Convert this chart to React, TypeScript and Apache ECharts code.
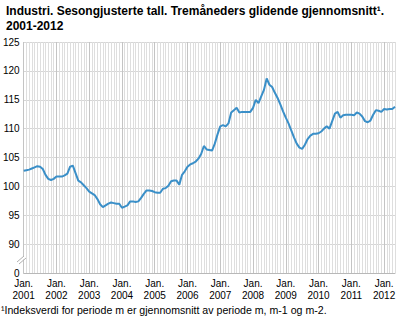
import React, { useEffect, useRef } from "react";
import * as echarts from "echarts";

const titleText = "Industri. Sesongjusterte tall. Tremåneders glidende gjennomsnitt¹.\n2001-2012";
const footnote = "¹Indeksverdi for periode m er gjennomsnitt av periode m, m-1 og m-2.";

const startYear = 2001;
const monthCount = 137; // Jan 2001 – May 2012

const yTicks = [85, 90, 95, 100, 105, 110, 115, 120, 125];

const values = [
  102.7, 102.8, 102.9, 103.1, 103.3, 103.5, 103.4, 103.0, 102.0, 101.3, 101.1, 101.3,
  101.7, 101.7, 101.7, 101.9, 102.2, 103.4, 103.6, 102.3, 101.0, 100.7, 100.2, 99.7,
  99.1, 98.8, 98.5, 97.8, 96.9, 96.4, 96.7, 97.0, 97.2, 97.1, 97.0, 97.0,
  96.3, 96.5, 96.7, 97.4, 97.4, 97.3, 97.4, 98.0, 98.7, 99.3, 99.3, 99.2,
  99.0, 98.9, 98.9, 99.6, 99.7, 100.1, 100.9, 101.0, 101.0, 100.3, 102.0, 102.6,
  103.4, 103.8, 104.0, 104.3, 104.8, 105.6, 107.0, 106.4, 106.3, 106.2, 107.4, 109.0,
  110.4, 110.6, 110.4, 110.9, 112.8, 113.2, 113.6, 112.8, 112.9, 112.9, 112.9, 112.9,
  113.6, 115.0, 114.4, 115.6, 116.7, 118.7, 117.6, 117.2, 116.2, 115.3, 114.2, 113.0,
  111.9, 110.9, 109.7, 108.5, 107.4, 106.7, 106.5, 107.2, 108.2, 108.8, 109.1, 109.1,
  109.2, 109.5, 110.0, 110.4, 110.0, 111.3, 112.6, 112.9, 111.9, 112.3, 112.4, 112.4,
  112.4, 112.3, 112.8, 112.6, 112.1, 111.3, 111.1, 111.4, 112.4, 113.2, 113.1, 112.9,
  113.4, 113.3, 113.4, 113.4, 113.8,
];

const categories: string[] = [];
for (let i = 0; i < monthCount; i++) {
  const y = startYear + Math.floor(i / 12);
  const m = (i % 12) + 1;
  categories.push(`${y}M${m < 10 ? "0" + m : m}`);
}

export default function App() {
  const ref = useRef<HTMLDivElement>(null);
  useEffect(() => {
    document.body.style.margin = "0";
    const chart = echarts.init(ref.current!, undefined, { renderer: "svg" });
    const font = "Arial, 'Liberation Sans', sans-serif";
    chart.setOption({
      animation: false,
      textStyle: { fontFamily: font },
      title: {
        text: titleText,
        left: 1,
        top: -1,
        textStyle: { fontSize: 12, fontWeight: "bold", color: "#000", lineHeight: 14.5, fontFamily: font },
      },
      grid: { left: 21, right: 5, top: 42, bottom: 47 },
      xAxis: [
        {
          type: "category",
          data: categories,
          boundaryGap: false,
          axisLine: { show: true, lineStyle: { color: "#b8b8b8", width: 1 } },
          axisTick: { show: false },
          splitLine: { show: true, interval: 0, lineStyle: { color: "#dedede", width: 1 } },
          axisLabel: {
            interval: (idx: number) => idx % 12 === 0,
            formatter: (v: string) => `Jan.\n${v.slice(0, 4)}`,
            fontSize: 10,
            lineHeight: 12,
            color: "#000",
            margin: 4,
            fontFamily: font,
          },
        },
        {
          type: "category",
          data: categories,
          boundaryGap: false,
          position: "bottom",
          axisLine: { show: false },
          axisTick: { show: false },
          axisLabel: { show: false },
          splitLine: {
            show: true,
            interval: (idx: number) => idx % 12 === 0,
            lineStyle: { color: "#c4c4c4", width: 1 },
          },
        },
      ],
      yAxis: {
        type: "value",
        min: 85,
        max: 125,
        interval: 5,
        axisLine: { show: false },
        axisTick: { show: false },
        splitLine: { show: true, lineStyle: { color: "#d6d6d6", width: 1 } },
        axisLabel: {
          formatter: (v: number) => (v === 85 ? "0" : yTicks.includes(v) ? String(v) : ""),
          fontSize: 10,
          color: "#000",
          margin: 4,
          fontFamily: font,
        },
      },
      series: [
        {
          type: "line",
          data: values,
          xAxisIndex: 0,
          symbol: "none",
          smooth: false,
          lineStyle: { color: "#3a8fc8", width: 2 },
          z: 5,
        },
      ],
      graphic: [
        {
          type: "polygon",
          shape: { points: [[18, 262], [24, 256], [26, 257], [20, 263]] },
          style: { fill: "#ffffff", stroke: "none" },
          z: 10,
        },
        {
          type: "line",
          shape: { x1: 17, y1: 262, x2: 24, y2: 256 },
          style: { stroke: "#b0b0b0", lineWidth: 1 },
          z: 11,
        },
        {
          type: "line",
          shape: { x1: 19, y1: 264, x2: 26, y2: 258 },
          style: { stroke: "#b0b0b0", lineWidth: 1 },
          z: 11,
        },
        {
          type: "text",
          left: 1,
          top: 304,
          style: { text: footnote, fill: "#000", font: `10.6px ${font}` },
        },
      ],
    });
    return () => chart.dispose();
  }, []);
  return <div ref={ref} style={{ width: 400, height: 320 }} />;
}
